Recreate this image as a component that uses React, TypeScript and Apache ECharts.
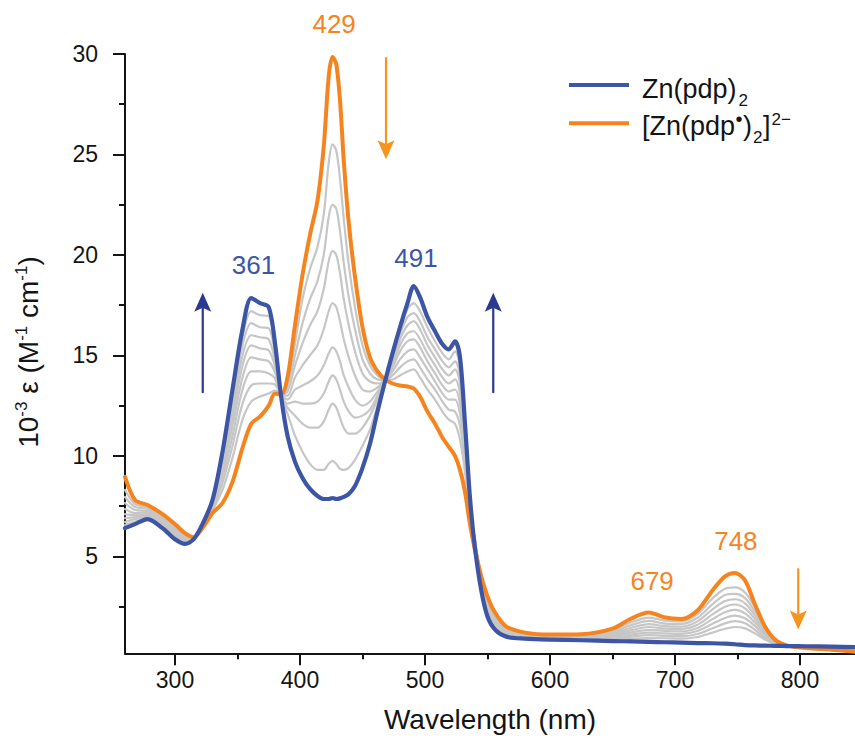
import React, { useEffect, useRef } from 'react';
import * as echarts from 'echarts';

const FONT = '"Liberation Sans", Arial, Helvetica, sans-serif';
const BLUE = '#3D55A5';
const ORANGE = '#F5841F';
const GRAY = '#C6C6C6';
const ARROW_BLUE = '#2B3990';
const ARROW_ORANGE = '#F7941D';
const INK = '#141414';

// Wavelength grid (nm)
const wavelengths = [
  260, 268, 278, 290, 300, 308, 315, 322, 330, 338,
  346, 354, 361, 368, 375, 380, 385, 390, 396, 402,
  408, 414, 419, 423, 426, 429, 432, 435, 439, 444,
  450, 456, 462, 468, 474, 480, 486, 491, 496, 502,
  508, 514, 519, 524, 528, 532, 536, 540, 545, 550,
  556, 565, 580, 600, 625, 650, 665, 679, 692, 705,
  718, 730, 740, 748, 756, 764, 772, 780, 790, 805,
  825, 844,
];

// Zn(pdp)2 (blue), 10^-3 epsilon
const znPdp2 = [
  6.4, 6.6, 6.85, 6.4, 5.85, 5.62, 5.85, 6.6, 7.8, 10.2,
  13.3, 16.3, 17.85, 17.6, 17.4, 15.6, 12.9, 11.0, 9.7, 8.9,
  8.35, 8.0, 7.85, 7.85, 7.9, 7.85, 7.88, 7.95, 8.1, 8.5,
  9.4, 10.6, 12.2, 13.7, 15.1, 16.4, 17.6, 18.45, 17.9, 16.9,
  16.2, 15.55, 15.3, 15.7, 14.9, 11.6, 7.9, 5.4, 3.3, 2.0,
  1.35, 1.0, 0.9, 0.85, 0.82, 0.78, 0.76, 0.74, 0.72, 0.7,
  0.68, 0.67, 0.65, 0.62, 0.58, 0.56, 0.55, 0.54, 0.53, 0.52,
  0.5, 0.48,
];

// [Zn(pdp•)2]2− (orange)
const znPdpRadical = [
  8.95, 7.8, 7.55, 7.1, 6.6, 6.15, 5.95, 6.4, 7.15, 7.65,
  8.7, 10.4, 11.6, 11.95, 12.5, 13.1, 13.05, 13.9, 16.5, 19.0,
  21.0, 22.7, 25.4, 28.9, 29.85, 29.5, 27.7, 24.7, 21.6, 18.9,
  16.4, 14.9, 14.2, 13.8, 13.6, 13.5, 13.45, 13.35, 12.95, 12.2,
  11.6, 10.9, 10.45, 10.0, 9.3, 8.2, 6.6, 5.3, 4.0, 3.0,
  2.2, 1.5, 1.2, 1.1, 1.12, 1.4, 1.9, 2.2, 1.95, 1.88,
  2.3, 3.3, 4.0, 4.17, 3.8, 2.6, 1.5, 0.85, 0.55, 0.43,
  0.35, 0.25,
];

// Intermediate titration spectra (grey), from radical side to neutral side
const step1 = [
  8.3, 7.6, 7.45, 6.98, 6.5, 6.08, 5.94, 6.45, 7.3, 8.3,
  9.9, 11.8, 12.7, 12.95, 13.1, 13.25, 13.1, 13.6, 15.6, 17.8,
  19.3, 20.4, 22.0, 24.6, 25.5, 25.2, 23.8, 21.8, 19.5, 17.4,
  15.5, 14.5, 14.0, 13.78, 13.8, 14.0, 14.2, 14.3, 13.9, 13.3,
  12.8, 12.2, 11.8, 11.6, 10.8, 9.2, 6.9, 5.5, 4.1, 3.0,
  2.1, 1.42, 1.15, 1.05, 1.08, 1.32, 1.72, 1.95, 1.8, 1.76,
  2.12, 2.9, 3.38, 3.45, 3.2, 2.45, 1.55, 0.86, 0.56, 0.5,
  0.46, 0.42,
];
const step2 = [
  7.95, 7.45, 7.35, 6.9, 6.4, 6.0, 5.93, 6.48, 7.38, 8.65,
  10.5, 12.6, 13.5, 13.6, 13.6, 13.55, 13.1, 13.4, 15.0, 16.6,
  17.8, 18.7, 20.0, 21.9, 22.5, 22.3, 21.2, 19.6, 17.9, 16.3,
  14.8, 14.1, 13.8, 13.77, 14.0, 14.4, 14.7, 14.8, 14.4, 13.8,
  13.3, 12.7, 12.3, 12.2, 11.5, 9.7, 7.1, 5.6, 4.1, 2.9,
  2.0, 1.36, 1.1, 1.01, 1.04, 1.24, 1.57, 1.78, 1.65, 1.63,
  1.94, 2.62, 3.07, 3.13, 2.92, 2.25, 1.45, 0.83, 0.56, 0.5,
  0.46, 0.42,
];
const step3 = [
  7.65, 7.3, 7.25, 6.82, 6.3, 5.93, 5.92, 6.5, 7.46, 8.95,
  11.0, 13.3, 14.2, 14.2, 14.1, 13.85, 13.1, 13.2, 14.5, 15.6,
  16.5, 17.2, 18.3, 19.7, 20.2, 20.0, 19.1, 17.8, 16.5, 15.2,
  14.1, 13.7, 13.6, 13.76, 14.2, 14.8, 15.2, 15.3, 14.9, 14.3,
  13.7, 13.1, 12.8, 12.8, 12.1, 10.1, 7.25, 5.7, 4.0, 2.8,
  1.9, 1.3, 1.06, 0.98, 1.0, 1.17, 1.44, 1.62, 1.52, 1.5,
  1.76, 2.36, 2.77, 2.86, 2.66, 2.06, 1.35, 0.8, 0.55, 0.5,
  0.47, 0.43,
];
const step4 = [
  7.35, 7.15, 7.18, 6.74, 6.2, 5.87, 5.91, 6.52, 7.53, 9.25,
  11.5, 13.9, 14.9, 14.8, 14.7, 14.15, 13.1, 13.0, 13.9, 14.5,
  15.0, 15.5, 16.3, 17.2, 17.6, 17.4, 16.7, 15.8, 14.9, 14.0,
  13.3, 13.2, 13.4, 13.75, 14.4, 15.2, 15.7, 15.8, 15.4, 14.7,
  14.1, 13.5, 13.2, 13.3, 12.6, 10.5, 7.4, 5.8, 3.9, 2.7,
  1.8, 1.25, 1.02, 0.95, 0.97, 1.1, 1.32, 1.48, 1.4, 1.38,
  1.59, 2.11, 2.49, 2.6, 2.41, 1.88, 1.25, 0.77, 0.55, 0.5,
  0.47, 0.44,
];
const step5 = [
  7.1, 7.05, 7.1, 6.66, 6.12, 5.81, 5.9, 6.54, 7.6, 9.5,
  11.9, 14.5, 15.5, 15.35, 15.25, 14.45, 13.1, 12.8, 13.3, 13.5,
  13.7, 14.0, 14.5, 15.1, 15.4, 15.2, 14.7, 14.0, 13.4, 12.8,
  12.5, 12.7, 13.2, 13.74, 14.55, 15.5, 16.1, 16.2, 15.8, 15.1,
  14.5, 13.9, 13.6, 13.8, 13.1, 10.8, 7.5, 5.8, 3.8, 2.6,
  1.7, 1.2, 0.99, 0.92, 0.94, 1.03, 1.21, 1.34, 1.28, 1.26,
  1.43, 1.87, 2.21, 2.33, 2.16, 1.7, 1.15, 0.74, 0.55, 0.5,
  0.48, 0.45,
];
const step6 = [
  6.9, 6.95, 7.03, 6.58, 6.04, 5.75, 5.89, 6.56, 7.66, 9.72,
  12.3, 15.0, 16.0, 15.9, 15.8, 14.75, 13.1, 12.6, 12.7, 12.6,
  12.6, 12.7, 13.1, 13.7, 14.0, 13.8, 13.3, 12.7, 12.2, 11.9,
  12.0, 12.3, 13.0, 13.73, 14.7, 15.8, 16.5, 16.7, 16.3, 15.5,
  14.9, 14.3, 14.0, 14.3, 13.6, 11.1, 7.6, 5.8, 3.7, 2.5,
  1.6, 1.15, 0.96, 0.9, 0.91, 0.97, 1.1, 1.2, 1.16, 1.14,
  1.28, 1.64, 1.93, 2.05, 1.91, 1.52, 1.05, 0.7, 0.54, 0.5,
  0.48, 0.45,
];
const step7 = [
  6.7, 6.85, 6.96, 6.5, 5.97, 5.7, 5.88, 6.58, 7.71, 9.9,
  12.65, 15.5, 16.6, 16.4, 16.35, 15.05, 13.05, 12.4, 12.0, 11.6,
  11.4, 11.4, 11.7, 12.3, 12.6, 12.4, 11.9, 11.4, 11.1, 11.1,
  11.4, 12.0, 12.8, 13.72, 14.85, 16.05, 16.9, 17.1, 16.7, 15.9,
  15.3, 14.7, 14.4, 14.7, 14.0, 11.3, 7.7, 5.7, 3.6, 2.35,
  1.5, 1.1, 0.94, 0.88, 0.88, 0.91, 1.0, 1.07, 1.04, 1.02,
  1.13, 1.42, 1.66, 1.77, 1.66, 1.34, 0.95, 0.67, 0.54, 0.51,
  0.49, 0.46,
];
const step8 = [
  6.55, 6.72, 6.9, 6.45, 5.9, 5.66, 5.87, 6.59, 7.76, 10.05,
  12.95, 15.9, 17.2, 17.0, 16.95, 15.35, 13.0, 12.1, 11.0, 10.2,
  9.6, 9.3, 9.3, 9.6, 9.75, 9.6, 9.35, 9.3, 9.4, 9.8,
  10.5, 11.3, 12.5, 13.71, 15.0, 16.3, 17.3, 17.6, 17.2, 16.4,
  15.7, 15.1, 14.8, 15.2, 14.4, 11.5, 7.8, 5.6, 3.5, 2.2,
  1.45, 1.05, 0.92, 0.87, 0.85, 0.85, 0.9, 0.93, 0.92, 0.9,
  0.98, 1.2, 1.39, 1.48, 1.41, 1.16, 0.86, 0.63, 0.54, 0.51,
  0.49, 0.46,
];
const intermediateSteps = [step1, step2, step3, step4, step5, step6, step7, step8];

// Axes
const xRange = [260, 844];
const yRange = [0.17, 30];
const xMajorTicks = [300, 400, 500, 600, 700, 800];
const xMinorTicks = [350, 450, 550, 650, 750];
const yMajorTicks = [5, 10, 15, 20, 25, 30];
const yMinorTicks = [2.5, 7.5, 12.5, 17.5, 22.5, 27.5];

// Peak labels (nm)
const peakNames = ['429', '361', '491', '679', '748'];

let measureCtx: CanvasRenderingContext2D | null = null;
function textWidth(text: string, size: number) {
  if (!measureCtx) measureCtx = document.createElement('canvas').getContext('2d');
  if (!measureCtx) return text.length * size * 0.55;
  measureCtx.font = `${size}px ${FONT}`;
  return measureCtx.measureText(text).width;
}

type Piece = { t: string; size: number; dy: number; gap?: number };

// Builds a row of text pieces (for sub/superscripts) starting at local x = x0
function textRow(pieces: Piece[], x0: number, y0: number, fill: string) {
  const els: any[] = [];
  let x = x0;
  pieces.forEach((p) => {
    x += p.gap || 0;
    els.push({
      type: 'text',
      x,
      y: y0 + p.dy,
      silent: true,
      style: {
        text: p.t,
        fontFamily: FONT,
        fontSize: p.size,
        lineHeight: Math.round(p.size * 0.8),
        fill,
        align: 'left',
        verticalAlign: 'middle',
      },
    });
    x += textWidth(p.t, p.size);
  });
  return { els, width: x - x0 };
}

function lineSeries(name: string, values: number[], color: string, width: number, z: number) {
  return {
    type: 'line',
    name,
    data: wavelengths.map((w, i) => [w, values[i]]),
    showSymbol: false,
    symbol: 'none',
    smooth: 0.3,
    silent: true,
    z,
    lineStyle: { color, width, cap: 'round', join: 'round' },
  };
}

function arrowGraphic(x: number, yFrom: number, yTo: number, color: string) {
  const dir = Math.sign(yTo - yFrom);
  const headLen = 19;
  const headW = 8.5;
  const notch = 4;
  return [
    {
      type: 'line',
      shape: { x1: x, y1: yFrom, x2: x, y2: yTo - dir * (headLen - notch) },
      style: { stroke: color, lineWidth: 2.2 },
      silent: true,
    },
    {
      type: 'polygon',
      shape: {
        points: [
          [x, yTo],
          [x - headW, yTo - dir * headLen],
          [x, yTo - dir * (headLen - notch)],
          [x + headW, yTo - dir * headLen],
        ],
      },
      style: { fill: color },
      silent: true,
    },
  ];
}

export default function App() {
  const ref = useRef<HTMLDivElement>(null);

  useEffect(() => {
    if (!ref.current) return;
    const chart = echarts.init(ref.current, undefined, { renderer: 'svg' });

    const tickLabelStyle = { fontFamily: FONT, fontSize: 23, color: INK };
    const axisLineStyle = { color: INK, width: 2 };

    const series: any[] = [];
    intermediateSteps.forEach((s, i) => series.push(lineSeries('step' + (i + 1), s, GRAY, 2.2, 2)));
    series.push(lineSeries('[Zn(pdp•)2]2−', znPdpRadical, ORANGE, 4, 4));
    series.push(lineSeries('Zn(pdp)2', znPdp2, BLUE, 4.2, 5));

    chart.setOption({
      animation: false,
      backgroundColor: '#ffffff',
      textStyle: { fontFamily: FONT },
      grid: { left: 125, top: 54, right: 0, bottom: 88.7, containLabel: false },
      xAxis: [
        {
          type: 'value',
          min: xRange[0],
          max: xRange[1],
          name: 'Wavelength (nm)',
          nameLocation: 'middle',
          nameGap: 52,
          nameTextStyle: { fontFamily: FONT, fontSize: 28, color: INK },
          axisLine: { show: true, onZero: false, lineStyle: axisLineStyle },
          axisTick: { show: true, customValues: xMajorTicks, length: 12, lineStyle: { color: INK, width: 2 } },
          axisLabel: { show: true, customValues: xMajorTicks, margin: 15, ...tickLabelStyle },
          splitLine: { show: false },
        },
        {
          type: 'value',
          min: xRange[0],
          max: xRange[1],
          position: 'bottom',
          axisLine: { show: false, onZero: false },
          axisTick: { show: true, customValues: xMinorTicks, length: 6, lineStyle: { color: INK, width: 2 } },
          axisLabel: { show: false },
          splitLine: { show: false },
        },
      ],
      yAxis: [
        {
          type: 'value',
          min: yRange[0],
          max: yRange[1],
          axisLine: { show: true, onZero: false, lineStyle: axisLineStyle },
          axisTick: { show: true, customValues: yMajorTicks, length: 12, lineStyle: { color: INK, width: 2 } },
          axisLabel: { show: true, customValues: yMajorTicks, margin: 27, ...tickLabelStyle },
          splitLine: { show: false },
        },
        {
          type: 'value',
          min: yRange[0],
          max: yRange[1],
          position: 'left',
          axisLine: { show: false, onZero: false },
          axisTick: { show: true, customValues: yMinorTicks, length: 6, lineStyle: { color: INK, width: 2 } },
          axisLabel: { show: false },
          splitLine: { show: false },
        },
      ],
      series,
    });

    const toPx = (wl: number, eps: number) =>
      chart.convertToPixel({ xAxisIndex: 0, yAxisIndex: 0 }, [wl, eps]) as number[];

    const labelPlacement = [
      { wl: 427.3, eps: 31.5, color: ORANGE },
      { wl: 362.8, eps: 19.5, color: BLUE },
      { wl: 492.8, eps: 19.85, color: BLUE },
      { wl: 681.7, eps: 3.78, color: ORANGE },
      { wl: 748.7, eps: 5.77, color: ORANGE },
    ];
    const arrowPlacement = [
      { wl: 322.2, from: 13.13, to: 18.12, color: ARROW_BLUE },
      { wl: 554.6, from: 13.13, to: 18.12, color: ARROW_BLUE },
      { wl: 468.8, from: 29.84, to: 24.76, color: ARROW_ORANGE },
      { wl: 798.6, from: 4.4, to: 1.36, color: ARROW_ORANGE },
    ];

    const graphics: any[] = [];
    labelPlacement.forEach((p, i) => {
      const [x, y] = toPx(p.wl, p.eps);
      graphics.push({
        type: 'text',
        x,
        y,
        silent: true,
        style: {
          text: peakNames[i],
          fontFamily: FONT,
          fontSize: 26,
          fill: p.color,
          align: 'center',
          verticalAlign: 'middle',
        },
      });
    });
    arrowPlacement.forEach((a) => {
      const [x, y1] = toPx(a.wl, a.from);
      const [, y2] = toPx(a.wl, a.to);
      graphics.push(...arrowGraphic(x, y1, y2, a.color));
    });

    // Y axis title: 10^-3 ε (M^-1 cm^-1), rotated
    const yTitlePieces: Piece[] = [
      { t: '10', size: 28, dy: 0 },
      { t: '-3', size: 17, dy: -7 },
      { t: ' ε (M', size: 28, dy: 0 },
      { t: '-1', size: 17, dy: -7 },
      { t: ' cm', size: 28, dy: 0 },
      { t: '-1', size: 17, dy: -7 },
      { t: ')', size: 28, dy: 0 },
    ];
    const probe = textRow(yTitlePieces, 0, 0, INK);
    const yTitle = textRow(yTitlePieces, -probe.width / 2, 0, INK);
    graphics.push({
      type: 'group',
      x: 28,
      y: 352,
      rotation: Math.PI / 2,
      silent: true,
      children: yTitle.els,
    });

    // Legend
    graphics.push(
      { type: 'line', shape: { x1: 569, y1: 85, x2: 629, y2: 85 }, style: { stroke: BLUE, lineWidth: 4.2 }, silent: true },
      { type: 'line', shape: { x1: 569, y1: 123.3, x2: 629, y2: 123.3 }, style: { stroke: ORANGE, lineWidth: 4 }, silent: true }
    );
    const legend1 = textRow(
      [
        { t: 'Zn(pdp)', size: 27, dy: 0 },
        { t: '2', size: 17, dy: 10.8, gap: 2 },
      ],
      642,
      89.2,
      INK
    );
    const legend2 = textRow(
      [
        { t: '[Zn(pdp', size: 27, dy: 0 },
        { t: '•', size: 20, dy: -6.5, gap: 0.5 },
        { t: ')', size: 27, dy: 0, gap: 0.5 },
        { t: '2', size: 17, dy: 12, gap: 1 },
        { t: ']', size: 27, dy: 0, gap: 0.5 },
        { t: '2−', size: 17, dy: -6.3, gap: 1 },
      ],
      642,
      125.5,
      INK
    );
    graphics.push(...legend1.els, ...legend2.els);

    chart.setOption({ graphic: graphics });

    return () => {
      chart.dispose();
    };
  }, []);

  return (
    <div
      ref={ref}
      style={{ position: 'fixed', left: 0, top: 0, width: 855, height: 742, background: '#fff' }}
    />
  );
}
